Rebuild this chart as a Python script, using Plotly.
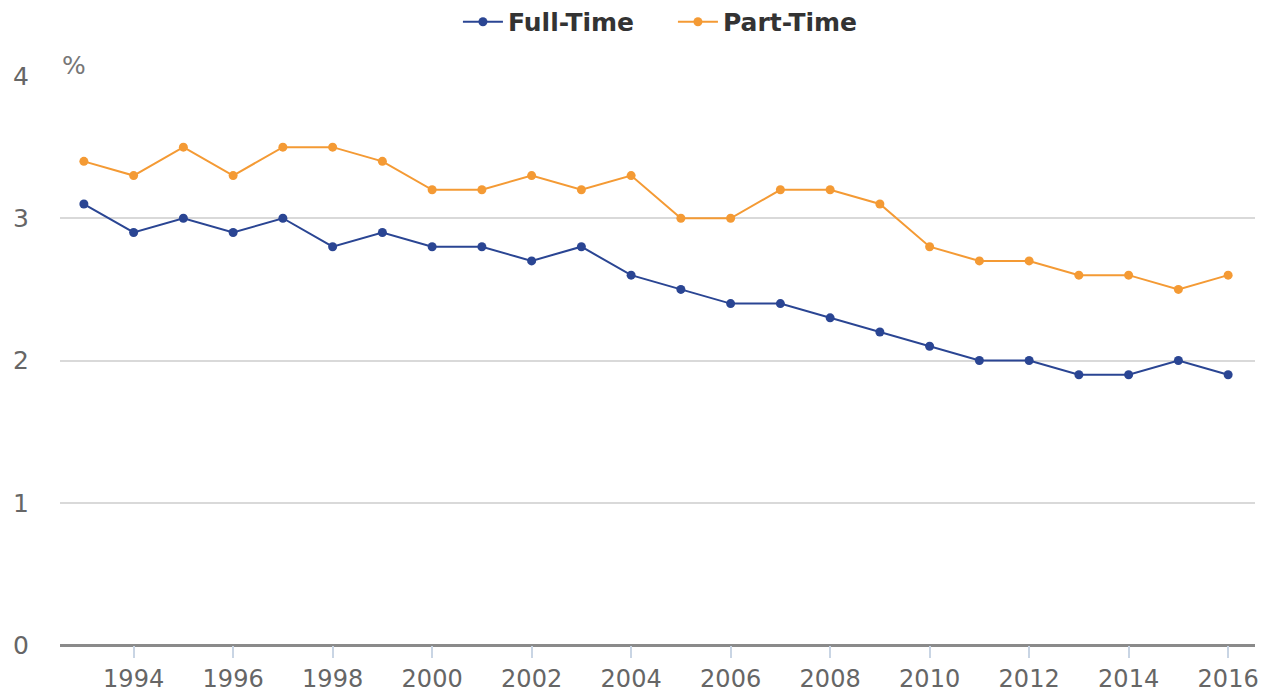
import plotly.graph_objects as go

# data
years = list(range(1993, 2017))
full_time = [3.1, 2.9, 3.0, 2.9, 3.0, 2.8, 2.9, 2.8, 2.8, 2.7, 2.8, 2.6,
             2.5, 2.4, 2.4, 2.3, 2.2, 2.1, 2.0, 2.0, 1.9, 1.9, 2.0, 1.9]
part_time = [3.4, 3.3, 3.5, 3.3, 3.5, 3.5, 3.4, 3.2, 3.2, 3.3, 3.2, 3.3,
             3.0, 3.0, 3.2, 3.2, 3.1, 2.8, 2.7, 2.7, 2.6, 2.6, 2.5, 2.6]
x_ticks = list(range(1994, 2017, 2))
y_ticks = [0, 1, 2, 3, 4]

font = "DejaVu Sans"

fig = go.Figure()
fig.add_trace(go.Scatter(x=years, y=full_time, name="Full-Time", mode="lines+markers",
                         line=dict(color="#2a4593", width=2), marker=dict(size=9, color="#2a4593")))
fig.add_trace(go.Scatter(x=years, y=part_time, name="Part-Time", mode="lines+markers",
                         line=dict(color="#f49a34", width=2), marker=dict(size=9, color="#f49a34")))

# the page adds an 8px body margin, so offsets are 8px smaller than in the picture
fig.update_layout(
    width=1264, height=683,
    margin=dict(l=52, r=17, t=68, b=46, autoexpand=False),
    plot_bgcolor="white", paper_bgcolor="white",
    font=dict(family=font, size=25, color="#666666"),
    showlegend=True,
    legend=dict(orientation="h", x=0.333, xanchor="left", xref="paper",
                y=1.095, yanchor="middle", yref="paper",
                font=dict(family=font, size=25, color="#333333", weight="bold"),
                itemwidth=40, entrywidthmode="pixels", entrywidth=160),
    xaxis=dict(range=[1992.52, 2016.54], tickvals=x_ticks, showgrid=False,
               ticks="outside", ticklen=12, tickwidth=2, tickcolor="#c9d5e4",
               showline=False, zeroline=False, automargin=False,
               tickfont=dict(size=24, color="#666666")),
    yaxis=dict(range=[0, 4], tickvals=y_ticks, showgrid=True, gridcolor="#d9d9d9",
               gridwidth=2, zeroline=True, zerolinecolor="#8a8a8a", zerolinewidth=3,
               showline=False, ticks="", ticklabelstandoff=30, automargin=False,
               tickfont=dict(size=25, color="#666666")),
    annotations=[dict(text="%", xref="paper", yref="paper", x=0, y=1.0, xanchor="left",
                      yanchor="bottom", yshift=-6, showarrow=False, font=dict(size=25, color="#777777"))],
)

fig.write_html("out.html")
